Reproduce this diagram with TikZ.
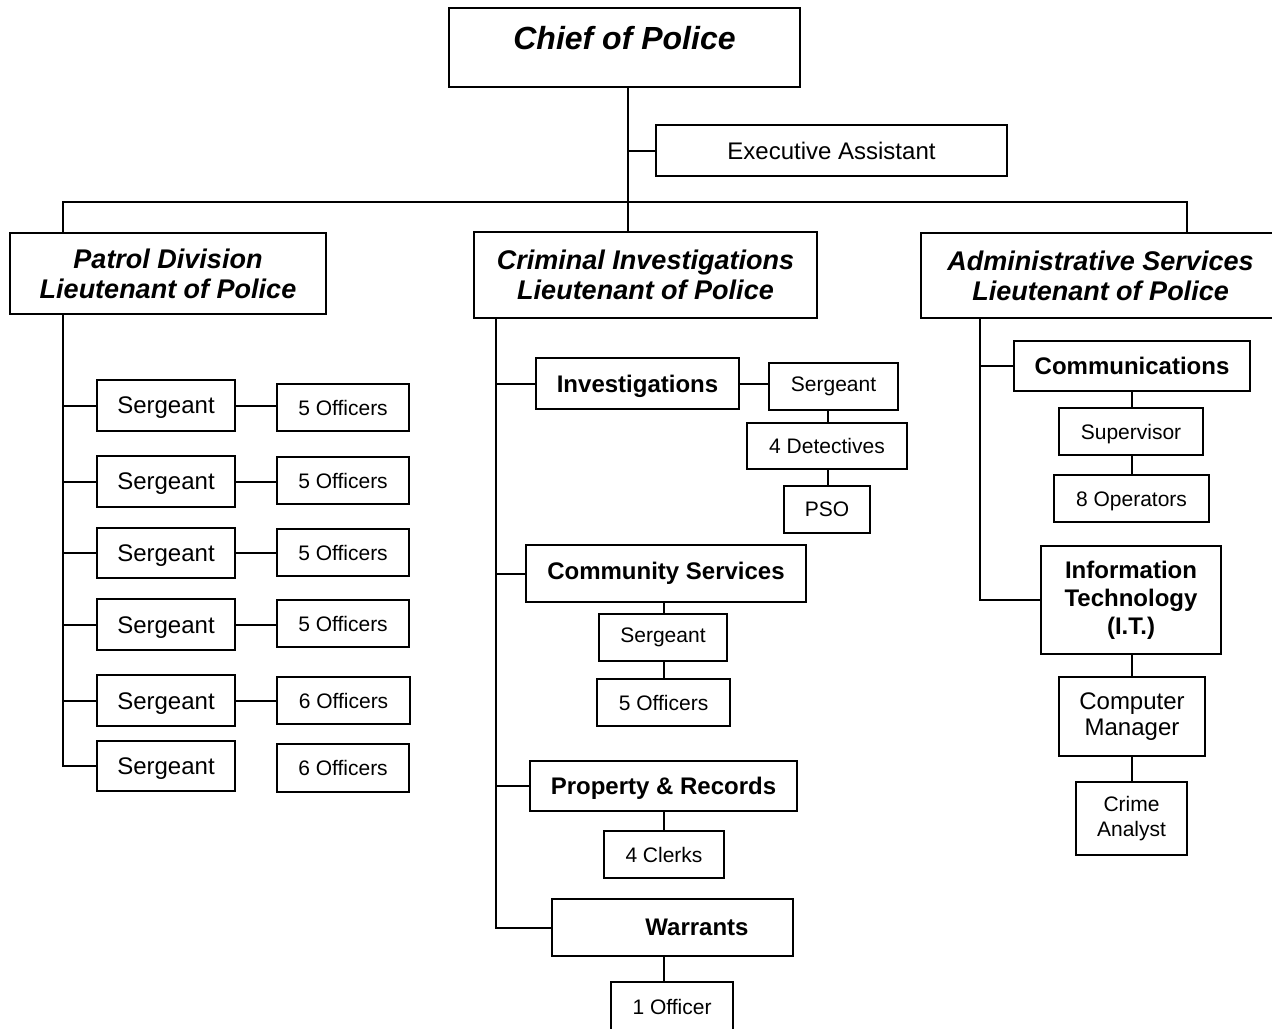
\documentclass[tikz,border=0pt]{standalone}
\usepackage{fontspec}
\setmainfont{Liberation Sans}
\tikzset{
  x=0.5pt, y=-0.5pt,
  box/.style={draw, line width=1pt, inner sep=0pt, align=center, fill=white},
  big/.style={font=\bfseries\itshape\fontsize{13.5}{15}\selectfont},
  chieffont/.style={font=\bfseries\itshape\fontsize{16}{19}\selectfont},
  mid/.style={font=\fontsize{12}{13}\selectfont},
  midb/.style={font=\bfseries\fontsize{12}{14}\selectfont},
  small/.style={font=\fontsize{10.5}{12.5}\selectfont},
  conn/.style={line width=1pt},
}
\newcommand\bx[7]{\node[box,#6,minimum width={(#4-#2)*0.5pt},minimum height={(#5-#3)*0.5pt}] (#1) at ({(#2+#4)/2},{(#3+#5)/2}) {#7};}
\newcommand\dn[1]{\raisebox{-1.3pt}[\height][\depth]{#1}}
\begin{document}
\begin{tikzpicture}
\useasboundingbox (0,0) rectangle (1272,1028);
\fill[white] (0,0) rectangle (1272,1028);
\clip (0,0) rectangle (1272,1028);

% top level
\bx{chief}{449}{8}{800}{87}{chieffont}{\raisebox{4.5pt}[\height][\depth]{Chief of Police}}
\bx{exec}{656}{125}{1007}{176}{mid}{Executive Assistant}
\bx{patrol}{10}{233}{326}{314}{big}{Patrol Division\\Lieutenant of Police}
\bx{crim}{474}{232}{817}{318}{big}{Criminal Investigations\\Lieutenant of Police}
\bx{admin}{921}{233}{1280}{318}{big}{Administrative Services\\Lieutenant of Police}

% patrol
\bx{s1}{97}{380}{235}{431}{mid}{\dn{Sergeant}}
\bx{o1}{277}{384}{409}{431}{small}{5 Officers}
\bx{s2}{97}{456}{235}{507}{mid}{\dn{Sergeant}}
\bx{o2}{277}{457}{409}{504}{small}{5 Officers}
\bx{s3}{97}{528}{235}{578}{mid}{\dn{Sergeant}}
\bx{o3}{277}{529}{409}{576}{small}{5 Officers}
\bx{s4}{97}{599}{235}{650}{mid}{\dn{Sergeant}}
\bx{o4}{277}{600}{409}{647}{small}{5 Officers}
\bx{s5}{97}{675}{235}{726}{mid}{\dn{Sergeant}}
\bx{o5}{277}{677}{410}{724}{small}{6 Officers}
\bx{s6}{97}{741}{235}{791}{mid}{\dn{Sergeant}}
\bx{o6}{277}{744}{409}{792}{small}{6 Officers}

% criminal investigations
\bx{inv}{536}{358}{739}{409}{midb}{\dn{Investigations}}
\bx{isg}{769}{363}{898}{410}{small}{Sergeant}
\bx{det}{747}{423}{907}{469}{small}{4 Detectives}
\bx{pso}{784}{486}{870}{533}{small}{PSO}
\bx{cs}{526}{545}{806}{602}{midb}{Community Services}
\bx{csg}{599}{614}{727}{661}{small}{Sergeant}
\bx{cso}{597}{679}{730}{726}{small}{5 Officers}
\bx{pr}{530}{761}{797}{811}{midb}{\dn{Property \& Records}}
\bx{clk}{604}{831}{724}{878}{small}{4 Clerks}
\bx{war}{552}{899}{793}{956}{midb}{\hspace*{24.5pt}Warrants}
\bx{one}{611}{982}{733}{1032}{small}{1 Officer}

% administrative services
\bx{comm}{1014}{341}{1250}{391}{midb}{Communications}
\bx{sup}{1059}{408}{1203}{455}{small}{\dn{Supervisor}}
\bx{op}{1054}{475}{1209}{522}{small}{\dn{8 Operators}}
\bx{it}{1041}{546}{1221}{654}{midb}{Information\\Technology\\(I.T.)}
\bx{cm}{1059}{677}{1205}{756}{mid}{Computer\\Manager}
\bx{ca}{1076}{782}{1187}{855}{small}{Crime\\Analyst}

% connectors: top
\coordinate (bus) at (628,202);
\coordinate (pL) at (63,202);
\coordinate (aL) at (1187,202);
\draw[conn] (chief.south -| bus) -- (bus |- crim.north);
\draw[conn] (bus |- exec.west) -- (exec.west);
\draw[conn] (pL |- patrol.north) -- (pL) -- (aL) -- (aL |- admin.north);

% patrol
\draw[conn] (pL |- patrol.south) -- (pL |- s6.west) -- (s6.west);
\foreach \k in {1,...,5}{
  \draw[conn] (pL |- s\k.west) -- (s\k.west);
  \draw[conn] (s\k.east) -- (s\k.east -| o\k.west);
}

% criminal
\coordinate (cT) at (496,318);
\draw[conn] (cT |- crim.south) -- (cT |- war.west) -- (war.west);
\draw[conn] (cT |- inv.west) -- (inv.west);
\draw[conn] (cT |- cs.west) -- (cs.west);
\draw[conn] (cT |- pr.west) -- (pr.west);
\draw[conn] (inv.east) -- (inv.east -| isg.west);
\coordinate (dx) at (828,0);
\draw[conn] (dx |- isg.south) -- (dx |- det.north);
\draw[conn] (dx |- det.south) -- (dx |- pso.north);
\coordinate (cx) at (664,0);
\draw[conn] (cx |- cs.south) -- (cx |- csg.north);
\draw[conn] (cx |- csg.south) -- (cx |- cso.north);
\draw[conn] (cx |- pr.south) -- (cx |- clk.north);
\draw[conn] (cx |- war.south) -- (cx |- one.north);

% admin
\coordinate (aT) at (980,318);
\draw[conn] (aT |- admin.south) -- (aT |- it.west) -- (it.west);
\draw[conn] (aT |- comm.west) -- (comm.west);
\coordinate (ax) at (1132,0);
\draw[conn] (ax |- comm.south) -- (ax |- sup.north);
\draw[conn] (ax |- sup.south) -- (ax |- op.north);
\draw[conn] (ax |- it.south) -- (ax |- cm.north);
\draw[conn] (ax |- cm.south) -- (ax |- ca.north);
\end{tikzpicture}
\end{document}
